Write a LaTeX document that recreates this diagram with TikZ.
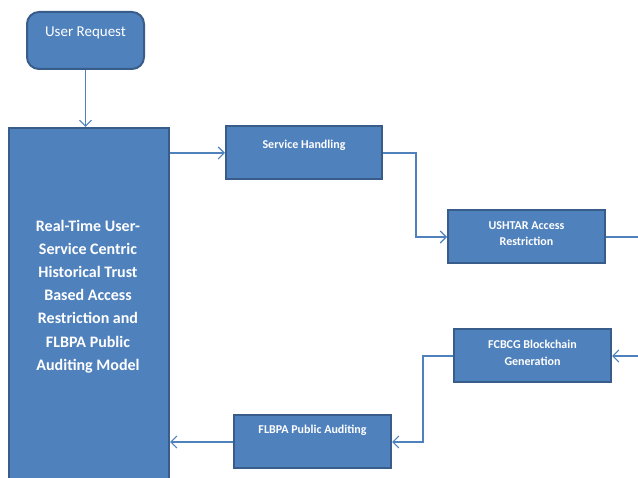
\documentclass[tikz,border=0pt]{standalone}
\usepackage{fontspec}
\setmainfont{Carlito}
\usetikzlibrary{arrows.meta}
\definecolor{boxfill}{HTML}{4F81BD}
\definecolor{boxline}{HTML}{385D8A}
\begin{document}
\begin{tikzpicture}[x=1pt,y=-1pt,
  box/.style={draw=boxline, line width=2pt, fill=boxfill, inner sep=0pt},
  txt/.style={text=white, font=\bfseries\fontsize{12}{16.7}\selectfont, align=center, inner sep=0pt},
  conn/.style={draw=boxfill, line width=1.1pt},
  arr/.style={conn, -{Straight Barb[length=6pt,width=12pt,line width=1.1pt]}}]
\useasboundingbox (0,0) rectangle (638,478);
\fill[white] (0,0) rectangle (638,478);
\clip (0,0) rectangle (638,478);
% boxes
\node[box, rounded corners=12pt, minimum width=117pt, minimum height=57pt] (ur) at (85.5,40.5) {};
\node[text=white, font=\fontsize{15}{18}\selectfont, inner sep=0pt] (urT) at (85.5,33) {User Request};
\node[box, minimum width=160pt, minimum height=380pt, anchor=north west] (main) at (8,127) {};
\node[txt, font=\bfseries\fontsize{16}{23.2}\selectfont] (mainT) at (88,296.5) {Real-Time User-\\Service Centric\\Historical Trust\\Based Access\\Restriction and\\FLBPA Public\\Auditing Model};
\node[box, minimum width=156pt, minimum height=53pt] (sh) at (304,153) {};
\node[txt] (shT) at (304,145) {Service Handling};
\node[box, minimum width=157pt, minimum height=53pt] (ush) at (526.5,237) {};
\node[txt] (ushT) at (526.5,233.5) {USHTAR Access\\Restriction};
\node[box, minimum width=157pt, minimum height=53pt] (fc) at (532.5,356) {};
\node[txt] (fcT) at (532.5,352.7) {FCBCG Blockchain\\Generation};
\node[box, minimum width=157pt, minimum height=53pt] (fl) at (312.5,442) {};
\node[txt] (flT) at (312.5,430) {FLBPA Public Auditing};
% helper coordinates
\coordinate (k1) at (416,0);
\coordinate (k2) at (423,0);
\coordinate (edge) at (638,0);
% connectors
\draw[arr] (ur.south) -- (ur.south |- main.north);
\draw[arr] (main.east |- sh.west) -- (sh.west);
\draw[arr] (sh.east) -| (k1 |- ush.west) -- (ush.west);
\draw[conn] (ush.east) -- (ush.east -| edge);
\draw[arr] (fc.east -| edge) -- (fc.east);
\draw[arr] (fc.west) -| (k2 |- fl.east) -- (fl.east);
\draw[arr] (fl.west) -- (fl.west -| main.east);
\end{tikzpicture}
\end{document}
